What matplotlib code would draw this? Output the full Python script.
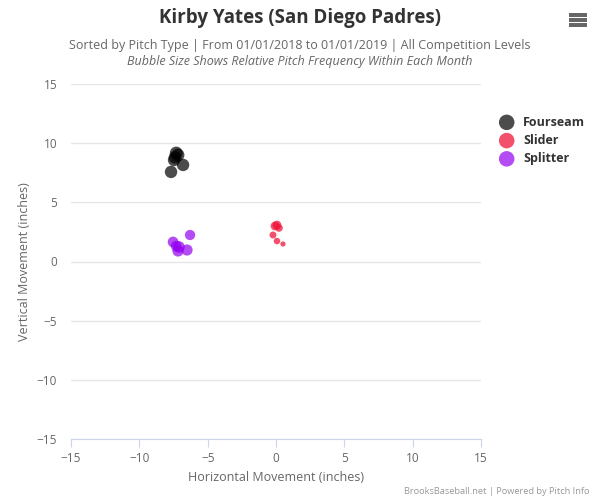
import matplotlib
matplotlib.use('Agg')
import matplotlib.pyplot as plt
from matplotlib.patches import Rectangle

# pitch movement data (inches)
fourseam_x = [-7.68, -6.80, -7.17, -7.39, -7.46, -7.30]
fourseam_y = [7.57, 8.16, 9.00, 8.80, 8.58, 9.17]
fourseam_s = [80, 80, 85, 80, 80, 85]

slider_x = [-0.07, 0.22, -0.22, 0.07, 0.51, 0.07]
slider_y = [3.00, 2.83, 2.24, 1.73, 1.48, 3.08]
slider_s = [40, 30, 25, 22, 14, 40]

splitter_x = [-7.53, -6.29, -7.17, -6.51, -7.10, -7.30]
splitter_y = [1.65, 2.24, 0.89, 0.97, 1.23, 1.30]
splitter_s = [60, 55, 65, 65, 70, 60]

x_ticks = [-15, -10, -5, 0, 5, 10, 15]
y_ticks = [-15, -10, -5, 0, 5, 10, 15]

plt.rcParams['font.family'] = ['Open Sans', 'DejaVu Sans']

fig = plt.figure(figsize=(5.97, 4.99), dpi=100)
W, H = 597, 499
ax = fig.add_axes([71 / W, 1 - 439 / H, 410 / W, 355 / H])

ax.scatter(fourseam_x, fourseam_y, s=fourseam_s, color='#000000', alpha=0.7,
           edgecolors='none', label='Fourseam', zorder=3)
ax.scatter(slider_x, slider_y, s=slider_s, color='#f0163a', alpha=0.75,
           edgecolors='none', label='Slider', zorder=3)
ax.scatter(splitter_x, splitter_y, s=splitter_s, color='#9400f0', alpha=0.7,
           edgecolors='none', label='Splitter', zorder=3)

ax.set_xlim(-15, 15)
ax.set_ylim(-15, 15)
ax.set_xticks(x_ticks)
ax.set_yticks(y_ticks)
ax.set_xticklabels([str(t).replace('-', '\u2212') for t in x_ticks])
ax.set_yticklabels([str(t).replace('-', '\u2212') for t in y_ticks])
ax.grid(axis='y', color='#e6e6e6', linewidth=1)
ax.set_axisbelow(True)
for side in ['top', 'right', 'left']:
    ax.spines[side].set_visible(False)
ax.spines['bottom'].set_color('#ccd6eb')
ax.tick_params(axis='x', colors='#ccd6eb', labelcolor='#666666', labelsize=8.5, length=6)
ax.tick_params(axis='y', length=0, labelcolor='#666666', labelsize=8.5, pad=10)

ax.set_xlabel('Horizontal Movement (inches)', color='#666666', fontsize=9)
ax.set_ylabel('Vertical Movement (inches)', color='#666666', fontsize=9)

leg = ax.legend(loc='upper left', bbox_to_anchor=(1.02, 0.925), frameon=False,
                handletextpad=0.3, labelspacing=0.42, borderaxespad=0,
                prop={'weight': 'bold', 'size': 9})
for h in leg.legend_handles:
    h.set_sizes([125])
for t in leg.get_texts():
    t.set_color('#333333')

fig.text(300 / W, 1 - 18 / H, 'Kirby Yates (San Diego Padres)', ha='center', va='center',
         fontsize=13.5, fontweight='bold', color='#333333')
fig.text(300 / W, 1 - 46 / H,
         'Sorted by Pitch Type | From 01/01/2018 to 01/01/2019 | All Competition Levels',
         ha='center', va='center', fontsize=9, color='#666666')
fig.text(300 / W, 1 - 61 / H, 'Bubble Size Shows Relative Pitch Frequency Within Each Month',
         ha='center', va='center', fontsize=9, color='#666666', style='italic')
fig.text(590 / W, 1 - 491 / H, 'BrooksBaseball.net | Powered by Pitch Info',
         ha='right', va='center', fontsize=6.7, color='#999999')

# menu icon
for yy in [15, 20, 25]:
    fig.patches.append(Rectangle((569 / W, 1 - (yy + 1.7) / H), 18 / W, 3.4 / H,
                                 transform=fig.transFigure, facecolor='#666666',
                                 linewidth=0))

fig.savefig('out.png', dpi=100)
